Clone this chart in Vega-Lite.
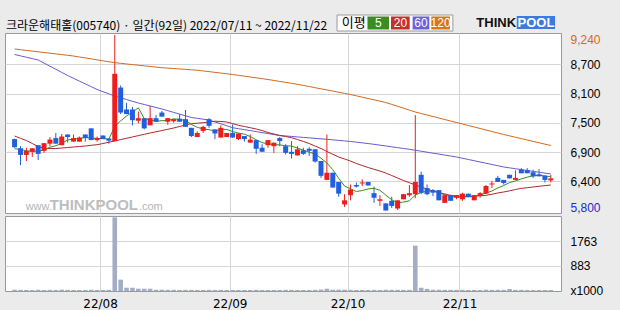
{
  "$schema": "https://vega.github.io/schema/vega-lite/v6.json",
  "background": "#ebebeb",
  "padding": {"left": 4, "top": 14, "right": 30, "bottom": 20},
  "autosize": {"type": "pad"},
  "spacing": 0,
  "config": {
    "view": {"stroke": "#9a9a9a", "fill": "#ffffff"},
    "axis": {"labelFont": "Liberation Sans", "labelFontSize": 12, "labelColor": "#000000", "gridColor": "#d6d6d6", "domain": false, "ticks": false}
  },
  "datasets": {
    "d": [
      {"i":0,"d":"07-11","o":7200,"h":7210,"l":7030,"c":7040,"v":45,"ma5":7010,"ma20":7260,"ma60":8858,"ma120":8966},
      {"i":1,"d":"07-12","o":7020,"h":7060,"l":6690,"c":6890,"v":40,"ma5":7000,"ma20":7215,"ma60":8831,"ma120":8952},
      {"i":2,"d":"07-13","o":6890,"h":7030,"l":6770,"c":6970,"v":35,"ma5":6970,"ma20":7172,"ma60":8804,"ma120":8938},
      {"i":3,"d":"07-14","o":6950,"h":7020,"l":6850,"c":7020,"v":35,"ma5":6960,"ma20":7113,"ma60":8777,"ma120":8925},
      {"i":4,"d":"07-15","o":7080,"h":7080,"l":6790,"c":6910,"v":40,"ma5":6966,"ma20":7055,"ma60":8750,"ma120":8911},
      {"i":5,"d":"07-18","o":6970,"h":7120,"l":6930,"c":7120,"v":35,"ma5":6982,"ma20":7019,"ma60":8689,"ma120":8897},
      {"i":6,"d":"07-19","o":7110,"h":7240,"l":7060,"c":7190,"v":40,"ma5":7042,"ma20":7015,"ma60":8628,"ma120":8883},
      {"i":7,"d":"07-20","o":7220,"h":7320,"l":7110,"c":7110,"v":35,"ma5":7070,"ma20":7015,"ma60":8568,"ma120":8869},
      {"i":8,"d":"07-21","o":7080,"h":7300,"l":7080,"c":7250,"v":45,"ma5":7116,"ma20":7025,"ma60":8507,"ma120":8856},
      {"i":9,"d":"07-22","o":7290,"h":7290,"l":7130,"c":7240,"v":40,"ma5":7182,"ma20":7035,"ma60":8446,"ma120":8842},
      {"i":10,"d":"07-25","o":7150,"h":7290,"l":7150,"c":7220,"v":35,"ma5":7202,"ma20":7045,"ma60":8391,"ma120":8828},
      {"i":11,"d":"07-26","o":7150,"h":7250,"l":7150,"c":7230,"v":35,"ma5":7210,"ma20":7055,"ma60":8336,"ma120":8809},
      {"i":12,"d":"07-27","o":7290,"h":7290,"l":7150,"c":7220,"v":35,"ma5":7232,"ma20":7064,"ma60":8282,"ma120":8791},
      {"i":13,"d":"07-28","o":7410,"h":7410,"l":7180,"c":7180,"v":45,"ma5":7218,"ma20":7078,"ma60":8227,"ma120":8772},
      {"i":14,"d":"07-29","o":7180,"h":7250,"l":7150,"c":7220,"v":35,"ma5":7214,"ma20":7090,"ma60":8172,"ma120":8753},
      {"i":15,"d":"08-01","o":7270,"h":7270,"l":7200,"c":7200,"v":35,"ma5":7210,"ma20":7113,"ma60":8129,"ma120":8734},
      {"i":16,"d":"08-02","o":7210,"h":7210,"l":7110,"c":7170,"v":40,"ma5":7198,"ma20":7139,"ma60":8087,"ma120":8716},
      {"i":17,"d":"08-03","o":7160,"h":9240,"l":7160,"c":8480,"v":2600,"ma5":7450,"ma20":7162,"ma60":8044,"ma120":8697},
      {"i":18,"d":"08-04","o":8210,"h":8250,"l":7690,"c":7720,"v":400,"ma5":7558,"ma20":7190,"ma60":8010,"ma120":8685},
      {"i":19,"d":"08-05","o":7780,"h":7910,"l":7690,"c":7690,"v":115,"ma5":7652,"ma20":7215,"ma60":7975,"ma120":8672},
      {"i":20,"d":"08-08","o":7780,"h":7830,"l":7470,"c":7570,"v":115,"ma5":7726,"ma20":7241,"ma60":7941,"ma120":8660},
      {"i":21,"d":"08-09","o":7560,"h":7740,"l":7510,"c":7610,"v":80,"ma5":7814,"ma20":7268,"ma60":7907,"ma120":8648},
      {"i":22,"d":"08-10","o":7610,"h":7610,"l":7390,"c":7410,"v":80,"ma5":7600,"ma20":7294,"ma60":7878,"ma120":8636},
      {"i":23,"d":"08-11","o":7470,"h":7850,"l":7470,"c":7610,"v":80,"ma5":7578,"ma20":7319,"ma60":7849,"ma120":8623},
      {"i":24,"d":"08-12","o":7610,"h":7670,"l":7540,"c":7540,"v":45,"ma5":7548,"ma20":7343,"ma60":7819,"ma120":8611},
      {"i":25,"d":"08-16","o":7720,"h":7750,"l":7640,"c":7640,"v":45,"ma5":7562,"ma20":7368,"ma60":7790,"ma120":8599},
      {"i":26,"d":"08-17","o":7540,"h":7610,"l":7480,"c":7610,"v":40,"ma5":7562,"ma20":7392,"ma60":7757,"ma120":8591},
      {"i":27,"d":"08-18","o":7550,"h":7590,"l":7520,"c":7590,"v":40,"ma5":7598,"ma20":7417,"ma60":7723,"ma120":8583},
      {"i":28,"d":"08-19","o":7600,"h":7690,"l":7540,"c":7540,"v":35,"ma5":7584,"ma20":7447,"ma60":7690,"ma120":8574},
      {"i":29,"d":"08-22","o":7590,"h":7770,"l":7440,"c":7440,"v":40,"ma5":7564,"ma20":7476,"ma60":7657,"ma120":8566},
      {"i":30,"d":"08-23","o":7420,"h":7420,"l":7240,"c":7260,"v":40,"ma5":7488,"ma20":7501,"ma60":7623,"ma120":8558},
      {"i":31,"d":"08-24","o":7240,"h":7350,"l":7240,"c":7320,"v":35,"ma5":7430,"ma20":7511,"ma60":7607,"ma120":8550},
      {"i":32,"d":"08-25","o":7360,"h":7460,"l":7320,"c":7440,"v":35,"ma5":7400,"ma20":7521,"ma60":7590,"ma120":8536},
      {"i":33,"d":"08-26","o":7590,"h":7610,"l":7420,"c":7460,"v":40,"ma5":7384,"ma20":7535,"ma60":7574,"ma120":8522},
      {"i":34,"d":"08-29","o":7390,"h":7390,"l":7200,"c":7310,"v":35,"ma5":7358,"ma20":7549,"ma60":7536,"ma120":8508},
      {"i":35,"d":"08-30","o":7230,"h":7470,"l":7230,"c":7420,"v":40,"ma5":7390,"ma20":7545,"ma60":7499,"ma120":8494},
      {"i":36,"d":"08-31","o":7240,"h":7320,"l":7240,"c":7320,"v":35,"ma5":7390,"ma20":7535,"ma60":7461,"ma120":8480},
      {"i":37,"d":"09-01","o":7320,"h":7490,"l":7230,"c":7230,"v":35,"ma5":7348,"ma20":7505,"ma60":7423,"ma120":8466},
      {"i":38,"d":"09-02","o":7200,"h":7310,"l":7180,"c":7310,"v":35,"ma5":7318,"ma20":7470,"ma60":7404,"ma120":8450},
      {"i":39,"d":"09-05","o":7260,"h":7260,"l":7150,"c":7200,"v":35,"ma5":7296,"ma20":7447,"ma60":7385,"ma120":8433},
      {"i":40,"d":"09-06","o":7130,"h":7290,"l":7130,"c":7190,"v":35,"ma5":7250,"ma20":7423,"ma60":7366,"ma120":8417},
      {"i":41,"d":"09-07","o":7180,"h":7180,"l":6910,"c":7010,"v":40,"ma5":7188,"ma20":7398,"ma60":7347,"ma120":8401},
      {"i":42,"d":"09-08","o":7030,"h":7100,"l":6950,"c":6950,"v":35,"ma5":7132,"ma20":7368,"ma60":7327,"ma120":8384},
      {"i":43,"d":"09-13","o":7080,"h":7180,"l":7030,"c":7180,"v":35,"ma5":7106,"ma20":7329,"ma60":7308,"ma120":8368},
      {"i":44,"d":"09-14","o":7060,"h":7130,"l":6930,"c":7130,"v":35,"ma5":7092,"ma20":7300,"ma60":7289,"ma120":8349},
      {"i":45,"d":"09-15","o":7220,"h":7240,"l":7060,"c":7160,"v":35,"ma5":7086,"ma20":7270,"ma60":7270,"ma120":8330},
      {"i":46,"d":"09-16","o":7060,"h":7100,"l":6900,"c":6930,"v":40,"ma5":7070,"ma20":7251,"ma60":7261,"ma120":8312},
      {"i":47,"d":"09-19","o":6950,"h":7160,"l":6820,"c":6910,"v":40,"ma5":7062,"ma20":7227,"ma60":7252,"ma120":8293},
      {"i":48,"d":"09-20","o":6880,"h":7060,"l":6880,"c":7000,"v":35,"ma5":7026,"ma20":7192,"ma60":7242,"ma120":8274},
      {"i":49,"d":"09-21","o":6980,"h":7030,"l":6890,"c":6910,"v":35,"ma5":6982,"ma20":7153,"ma60":7233,"ma120":8252},
      {"i":50,"d":"09-22","o":7010,"h":7040,"l":6870,"c":6970,"v":35,"ma5":6944,"ma20":7113,"ma60":7224,"ma120":8230},
      {"i":51,"d":"09-23","o":7000,"h":7000,"l":6740,"c":6760,"v":40,"ma5":6910,"ma20":7064,"ma60":7214,"ma120":8207},
      {"i":52,"d":"09-26","o":6770,"h":6770,"l":6440,"c":6480,"v":50,"ma5":6824,"ma20":7015,"ma60":7205,"ma120":8185},
      {"i":53,"d":"09-27","o":6400,"h":7290,"l":6400,"c":6540,"v":80,"ma5":6732,"ma20":6957,"ma60":7196,"ma120":8163},
      {"i":54,"d":"09-28","o":6540,"h":6540,"l":6250,"c":6250,"v":45,"ma5":6600,"ma20":6902,"ma60":7185,"ma120":8141},
      {"i":55,"d":"09-29","o":6360,"h":6360,"l":6070,"c":6130,"v":45,"ma5":6432,"ma20":6849,"ma60":7175,"ma120":8118},
      {"i":56,"d":"09-30","o":5920,"h":6120,"l":5870,"c":6000,"v":45,"ma5":6280,"ma20":6810,"ma60":7164,"ma120":8096},
      {"i":57,"d":"10-04","o":6100,"h":6310,"l":6000,"c":6210,"v":40,"ma5":6226,"ma20":6770,"ma60":7153,"ma120":8074},
      {"i":58,"d":"10-05","o":6300,"h":6350,"l":6250,"c":6270,"v":35,"ma5":6172,"ma20":6721,"ma60":7140,"ma120":8048},
      {"i":59,"d":"10-06","o":6330,"h":6410,"l":6280,"c":6350,"v":35,"ma5":6192,"ma20":6682,"ma60":7126,"ma120":8022},
      {"i":60,"d":"10-07","o":6360,"h":6360,"l":6290,"c":6290,"v":35,"ma5":6224,"ma20":6643,"ma60":7113,"ma120":7995},
      {"i":61,"d":"10-11","o":6140,"h":6270,"l":5950,"c":6050,"v":40,"ma5":6234,"ma20":6608,"ma60":7097,"ma120":7969},
      {"i":62,"d":"10-12","o":5990,"h":6100,"l":5890,"c":6020,"v":35,"ma5":6196,"ma20":6574,"ma60":7081,"ma120":7943},
      {"i":63,"d":"10-13","o":5940,"h":5940,"l":5800,"c":5800,"v":45,"ma5":6102,"ma20":6535,"ma60":7065,"ma120":7917},
      {"i":64,"d":"10-14","o":5990,"h":6070,"l":5850,"c":5890,"v":40,"ma5":6010,"ma20":6486,"ma60":7048,"ma120":7880},
      {"i":65,"d":"10-17","o":5840,"h":6000,"l":5810,"c":6000,"v":40,"ma5":5952,"ma20":6437,"ma60":7032,"ma120":7843},
      {"i":66,"d":"10-18","o":6020,"h":6120,"l":6020,"c":6120,"v":40,"ma5":5966,"ma20":6388,"ma60":7016,"ma120":7805},
      {"i":67,"d":"10-19","o":6100,"h":6300,"l":6070,"c":6140,"v":40,"ma5":5990,"ma20":6345,"ma60":7000,"ma120":7768},
      {"i":68,"d":"10-20","o":6120,"h":7670,"l":6040,"c":6360,"v":1600,"ma5":6102,"ma20":6300,"ma60":6981,"ma120":7731},
      {"i":69,"d":"10-21","o":6500,"h":6560,"l":6120,"c":6150,"v":115,"ma5":6154,"ma20":6261,"ma60":6962,"ma120":7702},
      {"i":70,"d":"10-24","o":6240,"h":6310,"l":6100,"c":6120,"v":75,"ma5":6178,"ma20":6222,"ma60":6943,"ma120":7672},
      {"i":71,"d":"10-25","o":6200,"h":6220,"l":6080,"c":6150,"v":45,"ma5":6184,"ma20":6182,"ma60":6924,"ma120":7643},
      {"i":72,"d":"10-26","o":6200,"h":6200,"l":6000,"c":6000,"v":45,"ma5":6156,"ma20":6153,"ma60":6906,"ma120":7613},
      {"i":73,"d":"10-27","o":5950,"h":6130,"l":5950,"c":6100,"v":40,"ma5":6104,"ma20":6124,"ma60":6887,"ma120":7584},
      {"i":74,"d":"10-28","o":6100,"h":6100,"l":5990,"c":5990,"v":40,"ma5":6072,"ma20":6098,"ma60":6868,"ma120":7554},
      {"i":75,"d":"10-31","o":6050,"h":6100,"l":6020,"c":6100,"v":40,"ma5":6068,"ma20":6084,"ma60":6849,"ma120":7525},
      {"i":76,"d":"11-01","o":6020,"h":6150,"l":5990,"c":6130,"v":40,"ma5":6064,"ma20":6080,"ma60":6825,"ma120":7496},
      {"i":77,"d":"11-02","o":6130,"h":6130,"l":6060,"c":6060,"v":35,"ma5":6076,"ma20":6080,"ma60":6800,"ma120":7466},
      {"i":78,"d":"11-03","o":6000,"h":6100,"l":6000,"c":6100,"v":35,"ma5":6076,"ma20":6084,"ma60":6776,"ma120":7437},
      {"i":79,"d":"11-04","o":6080,"h":6160,"l":6050,"c":6140,"v":35,"ma5":6106,"ma20":6092,"ma60":6751,"ma120":7408},
      {"i":80,"d":"11-07","o":6130,"h":6300,"l":6130,"c":6280,"v":45,"ma5":6142,"ma20":6098,"ma60":6727,"ma120":7378},
      {"i":81,"d":"11-08","o":6310,"h":6380,"l":6240,"c":6330,"v":40,"ma5":6182,"ma20":6118,"ma60":6702,"ma120":7349},
      {"i":82,"d":"11-09","o":6440,"h":6480,"l":6360,"c":6360,"v":40,"ma5":6242,"ma20":6143,"ma60":6678,"ma120":7319},
      {"i":83,"d":"11-10","o":6400,"h":6400,"l":6310,"c":6340,"v":40,"ma5":6290,"ma20":6163,"ma60":6653,"ma120":7290},
      {"i":84,"d":"11-11","o":6500,"h":6500,"l":6430,"c":6430,"v":70,"ma5":6348,"ma20":6186,"ma60":6636,"ma120":7263},
      {"i":85,"d":"11-14","o":6400,"h":6590,"l":6400,"c":6440,"v":40,"ma5":6380,"ma20":6212,"ma60":6619,"ma120":7236},
      {"i":86,"d":"11-15","o":6600,"h":6630,"l":6530,"c":6530,"v":40,"ma5":6420,"ma20":6235,"ma60":6602,"ma120":7209},
      {"i":87,"d":"11-16","o":6590,"h":6630,"l":6530,"c":6530,"v":35,"ma5":6454,"ma20":6247,"ma60":6584,"ma120":7182},
      {"i":88,"d":"11-17","o":6550,"h":6600,"l":6440,"c":6470,"v":35,"ma5":6480,"ma20":6261,"ma60":6567,"ma120":7155},
      {"i":89,"d":"11-18","o":6510,"h":6610,"l":6470,"c":6470,"v":35,"ma5":6488,"ma20":6275,"ma60":6550,"ma120":7128},
      {"i":90,"d":"11-21","o":6480,"h":6480,"l":6350,"c":6400,"v":35,"ma5":6480,"ma20":6288,"ma60":6533,"ma120":7101},
      {"i":91,"d":"11-22","o":6390,"h":6500,"l":6350,"c":6430,"v":35,"ma5":6460,"ma20":6300,"ma60":6516,"ma120":7074}
    ]
  },
  "vconcat": [
    {
      "width": 556,
      "height": 180,
      "title": {"text": "크라운해태홀(005740) · 일간(92일) 2022/07/11 ~ 2022/11/22", "anchor": "start", "frame": "group", "offset": 5, "dx": 1, "dy": 23, "font": "Noto Sans CJK KR", "fontSize": 12, "fontWeight": "normal", "color": "#000000"},
      "data": {"name": "d"},
      "resolve": {"axis": {"x": "independent", "y": "independent"}},
      "layer": [
        {
          "data": {"values": [{}]},
          "mark": {"type": "text", "text": "www.", "align": "left", "baseline": "alphabetic", "font": "Liberation Sans", "fontSize": 11, "color": "#b4b4b4"},
          "encoding": {
            "x": {"datum": 1.88, "type": "quantitative", "axis": null},
            "y": {"datum": 5810, "type": "quantitative", "axis": null}
          }
        },
        {
          "data": {"values": [{}]},
          "mark": {"type": "text", "text": "THINKPOOL", "align": "left", "baseline": "alphabetic", "font": "Liberation Sans", "fontSize": 15, "fontWeight": "bold", "color": "#bdbdbd"},
          "encoding": {
            "x": {"datum": 5.95, "type": "quantitative", "axis": null},
            "y": {"datum": 5810, "type": "quantitative", "axis": null}
          }
        },
        {
          "data": {"values": [{}]},
          "mark": {"type": "text", "text": ".com", "align": "left", "baseline": "alphabetic", "font": "Liberation Sans", "fontSize": 11, "color": "#b4b4b4"},
          "encoding": {
            "x": {"datum": 21.1, "type": "quantitative", "axis": null},
            "y": {"datum": 5810, "type": "quantitative", "axis": null}
          }
        },
        {
          "mark": {"type": "rule", "strokeWidth": 1},
          "encoding": {
            "x": {
              "field": "i", "type": "quantitative", "title": null,
              "scale": {"domain": [-0.78, 91.88], "nice": false, "zero": false},
              "axis": {"values": [14.5, 36.5, 56.5, 75.5], "labels": false, "grid": true, "orient": "bottom"}
            },
            "y": {
              "field": "l", "type": "quantitative", "title": null,
              "scale": {"domain": [5751.2, 9279.2], "nice": false, "zero": false},
              "axis": {
                "orient": "right",
                "values": [9240, 8666.7, 8093.3, 7520, 6946.7, 6373.3, 5800],
                "grid": true,
                "gridOpacity": {"condition": {"test": "datum.value == 9240 || datum.value == 5800", "value": 0}, "value": 1},
                "labelExpr": "datum.value == 9240 || datum.value == 5800 ? format(datum.value, ',') : format(round(datum.value / 100) * 100, ',')",
                "labelColor": {"condition": [{"test": "datum.value == 9240", "value": "#d2691e"}, {"test": "datum.value == 5800", "value": "#1a2ad6"}], "value": "#000000"},
                "labelOffset": {"condition": [{"test": "datum.value == 9240", "value": 4}, {"test": "datum.value == 5800", "value": -3}], "value": 0},
                "labelPadding": 9,
                "labelOverlap": false,
                "labelFlush": false
              }
            },
            "y2": {"field": "h"},
            "color": {"condition": {"test": "datum.c >= datum.o", "value": "#ee1c1c"}, "value": "#1f5fe0"}
          }
        },
        {
          "mark": {"type": "line", "strokeWidth": 1, "color": "#d2691e"},
          "encoding": {"x": {"field": "i", "type": "quantitative", "axis": null}, "y": {"field": "ma120", "type": "quantitative", "axis": null}}
        },
        {
          "mark": {"type": "line", "strokeWidth": 1, "color": "#6a5acd"},
          "encoding": {"x": {"field": "i", "type": "quantitative", "axis": null}, "y": {"field": "ma60", "type": "quantitative", "axis": null}}
        },
        {
          "mark": {"type": "line", "strokeWidth": 1, "color": "#b3262a"},
          "encoding": {"x": {"field": "i", "type": "quantitative", "axis": null}, "y": {"field": "ma20", "type": "quantitative", "axis": null}}
        },
        {
          "mark": {"type": "line", "strokeWidth": 1, "color": "#3c8a1e"},
          "encoding": {"x": {"field": "i", "type": "quantitative", "axis": null}, "y": {"field": "ma5", "type": "quantitative", "axis": null}}
        },
        {
          "mark": {"type": "bar", "size": 5},
          "encoding": {
            "x": {"field": "i", "type": "quantitative", "axis": null},
            "y": {"field": "o", "type": "quantitative", "axis": null},
            "y2": {"field": "c"},
            "color": {"condition": {"test": "datum.c >= datum.o", "value": "#ee1c1c"}, "value": "#1f5fe0"}
          }
        },
        {
          "data": {"values": [{}]},
          "mark": {"type": "rect", "fill": "#ffffff", "stroke": "#9a9a9a", "strokeWidth": 1},
          "encoding": {
            "x": {"datum": 54.72, "type": "quantitative", "axis": null},
            "x2": {"datum": 74.38},
            "y": {"datum": 9632, "type": "quantitative", "axis": null},
            "y2": {"datum": 9318}
          }
        },
        {
          "data": {"values": [{}]},
          "mark": {"type": "text", "text": "이평", "align": "center", "baseline": "middle", "font": "Noto Sans CJK KR", "fontSize": 13, "color": "#000000"},
          "encoding": {
            "x": {"datum": 57.55, "type": "quantitative", "axis": null},
            "y": {"datum": 9478, "type": "quantitative", "axis": null}
          }
        },
        {
          "data": {"values": [{}]},
          "mark": {"type": "rect", "fill": "#3d8b25"},
          "encoding": {
            "x": {"datum": 59.88, "type": "quantitative", "axis": null},
            "x2": {"datum": 63.55},
            "y": {"datum": 9603, "type": "quantitative", "axis": null},
            "y2": {"datum": 9348}
          }
        },
        {
          "data": {"values": [{}]},
          "mark": {"type": "rect", "fill": "#c3302c"},
          "encoding": {
            "x": {"datum": 63.88, "type": "quantitative", "axis": null},
            "x2": {"datum": 67.05},
            "y": {"datum": 9603, "type": "quantitative", "axis": null},
            "y2": {"datum": 9348}
          }
        },
        {
          "data": {"values": [{}]},
          "mark": {"type": "rect", "fill": "#6a62d8"},
          "encoding": {
            "x": {"datum": 67.55, "type": "quantitative", "axis": null},
            "x2": {"datum": 70.38},
            "y": {"datum": 9603, "type": "quantitative", "axis": null},
            "y2": {"datum": 9348}
          }
        },
        {
          "data": {"values": [{}]},
          "mark": {"type": "rect", "fill": "#d97812"},
          "encoding": {
            "x": {"datum": 70.72, "type": "quantitative", "axis": null},
            "x2": {"datum": 73.88},
            "y": {"datum": 9603, "type": "quantitative", "axis": null},
            "y2": {"datum": 9348}
          }
        },
        {
          "data": {"values": [{}]},
          "mark": {"type": "text", "text": "5", "align": "center", "baseline": "middle", "font": "Liberation Sans", "fontSize": 12, "color": "#ffffff"},
          "encoding": {
            "x": {"datum": 61.72, "type": "quantitative", "axis": null},
            "y": {"datum": 9475, "type": "quantitative", "axis": null}
          }
        },
        {
          "data": {"values": [{}]},
          "mark": {"type": "text", "text": "20", "align": "center", "baseline": "middle", "font": "Liberation Sans", "fontSize": 12, "color": "#ffffff"},
          "encoding": {
            "x": {"datum": 65.47, "type": "quantitative", "axis": null},
            "y": {"datum": 9475, "type": "quantitative", "axis": null}
          }
        },
        {
          "data": {"values": [{}]},
          "mark": {"type": "text", "text": "60", "align": "center", "baseline": "middle", "font": "Liberation Sans", "fontSize": 12, "color": "#ffffff"},
          "encoding": {
            "x": {"datum": 68.97, "type": "quantitative", "axis": null},
            "y": {"datum": 9475, "type": "quantitative", "axis": null}
          }
        },
        {
          "data": {"values": [{}]},
          "mark": {"type": "text", "text": "120", "align": "center", "baseline": "middle", "font": "Liberation Sans", "fontSize": 12, "color": "#ffffff"},
          "encoding": {
            "x": {"datum": 72.3, "type": "quantitative", "axis": null},
            "y": {"datum": 9475, "type": "quantitative", "axis": null}
          }
        },
        {
          "data": {"values": [{}]},
          "mark": {"type": "rect", "fill": "#3b7be0"},
          "encoding": {
            "x": {"datum": 85.22, "type": "quantitative", "axis": null},
            "x2": {"datum": 91.72},
            "y": {"datum": 9612, "type": "quantitative", "axis": null},
            "y2": {"datum": 9358}
          }
        },
        {
          "data": {"values": [{}]},
          "mark": {"type": "text", "text": "THINK", "align": "right", "baseline": "middle", "font": "Liberation Sans", "fontSize": 13, "fontWeight": "bold", "color": "#111111"},
          "encoding": {
            "x": {"datum": 85.1, "type": "quantitative", "axis": null},
            "y": {"datum": 9485, "type": "quantitative", "axis": null}
          }
        },
        {
          "data": {"values": [{}]},
          "mark": {"type": "text", "text": "POOL", "align": "center", "baseline": "middle", "font": "Liberation Sans", "fontSize": 13, "fontWeight": "bold", "color": "#ffffff"},
          "encoding": {
            "x": {"datum": 88.47, "type": "quantitative", "axis": null},
            "y": {"datum": 9485, "type": "quantitative", "axis": null}
          }
        }
      ]
    },
    {
      "width": 556,
      "height": 75,
      "data": {"name": "d"},
      "mark": {"type": "bar", "size": 4.6, "color": "#a3adc3"},
      "encoding": {
        "x": {
          "field": "i", "type": "quantitative", "title": null,
          "scale": {"domain": [-0.78, 91.88], "nice": false, "zero": false},
          "axis": {
            "values": [14.5, 36.5, 56.5, 75.5], "grid": true, "orient": "bottom",
            "labelExpr": "datum.value < 20 ? '22/08' : datum.value < 40 ? '22/09' : datum.value < 60 ? '22/10' : '22/11'",
            "labelFont": "DejaVu Sans", "labelFontSize": 12, "labelPadding": 7, "labelFlush": false
          }
        },
        "y": {
          "field": "v", "type": "quantitative", "title": null,
          "scale": {"domain": [0, 2646], "nice": false},
          "axis": {
            "orient": "right", "values": [0, 883, 1763], "grid": true,
            "gridOpacity": {"condition": {"test": "datum.value == 0", "value": 0}, "value": 1},
            "labelExpr": "datum.value == 0 ? 'x1000' : format(datum.value, 'd')",
            "labelOffset": {"condition": {"test": "datum.value == 0", "value": -1}, "value": 0},
            "labelPadding": 9, "labelOverlap": false, "labelFlush": false
          }
        }
      }
    }
  ]
}
